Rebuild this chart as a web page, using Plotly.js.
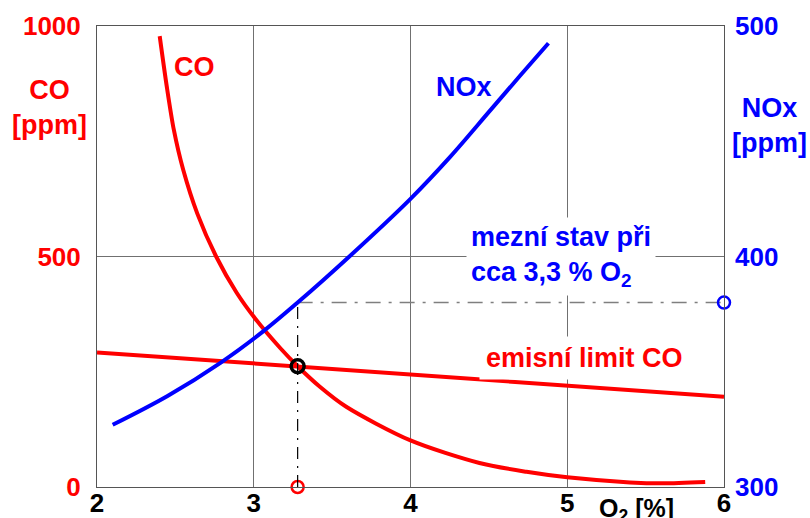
<!DOCTYPE html>
<html>
<head>
<meta charset="utf-8">
<script src="https://cdn.plot.ly/plotly-3.0.1.min.js"></script>
<style>html,body{margin:0;padding:0;background:#fff;}#chart{width:810px;height:518px;}</style>
</head>
<body>
<div id="chart"></div>
<script>
// O2 [%] tick values
const o2Ticks = [2, 3, 4, 5, 6];
const coTicks = [0, 500, 1000];
const noxTicks = [300, 400, 500];

// CO curve [ppm] vs O2 [%]
const coO2 = [2.40, 2.445, 2.49, 2.55, 2.64, 2.76, 2.89, 3.01, 3.17, 3.28, 3.42, 3.59, 4.0, 4.44, 4.74, 5.0, 5.4, 5.61, 5.88];
const coPpm = [978, 869, 775, 688, 593, 500, 422, 365, 301, 262, 218, 174, 101, 52, 33, 21, 10, 8, 11];

// NOx curve [ppm] vs O2 [%]
const noxO2 = [2.10, 2.45, 2.79, 3.06, 3.28, 3.61, 4.0, 4.25, 4.51, 4.70, 4.88];
const noxPpm = [327, 339.5, 354, 367.5, 380, 400, 425, 443, 463.5, 478.5, 492.5];

// CO emission limit (straight line)
const limitO2 = [2, 6];
const limitCO = [292, 196];

// limit state point
const stateO2 = 3.28;
const stateCO = 262;
const stateNOx = 380;

const FONT = 'Liberation Sans, Arial, sans-serif';
const RED = '#ff0000';
const BLUE = '#0000ff';

const traces = [
  { // horizontal dash-dot at NOx level
    x: [stateO2, 6], y: [stateNOx, stateNOx], yaxis: 'y2', mode: 'lines',
    line: {color: '#7f7f7f', width: 1.5, dash: '15px,8px,3px,8px'}, hoverinfo: 'skip'
  },
  { // vertical dash-dot at limit O2
    x: [stateO2, stateO2], y: [300, stateNOx], yaxis: 'y2', mode: 'lines',
    line: {color: '#000000', width: 1.2, dash: '12px,7px,2px,7px'}, hoverinfo: 'skip'
  },
  {
    x: limitO2, y: limitCO, mode: 'lines',
    line: {color: RED, width: 4}
  },
  {
    x: coO2, y: coPpm, mode: 'lines',
    line: {color: RED, width: 4, shape: 'spline', smoothing: 0.8}
  },
  {
    x: noxO2, y: noxPpm, yaxis: 'y2', mode: 'lines',
    line: {color: BLUE, width: 4, shape: 'spline', smoothing: 1}
  },
  {
    x: [stateO2], y: [stateCO], mode: 'markers', cliponaxis: false,
    marker: {symbol: 'circle-open', size: 13, color: '#000000', line: {width: 3.5, color: '#000000'}}
  },
  {
    x: [stateO2], y: [0], mode: 'markers', cliponaxis: false,
    marker: {symbol: 'circle-open', size: 12, color: RED, line: {width: 2.5, color: RED}}
  },
  {
    x: [6], y: [stateNOx], yaxis: 'y2', mode: 'markers', cliponaxis: false,
    marker: {symbol: 'circle-open', size: 12, color: BLUE, line: {width: 2.5, color: BLUE}}
  }
];

const bold = (size, color) => ({family: FONT, size: size, color: color, weight: 'bold'});

const layout = {
  width: 810, height: 518,
  margin: {l: 97, r: 86, t: 26, b: 31, pad: 0},
  paper_bgcolor: '#ffffff', plot_bgcolor: '#ffffff',
  showlegend: false,
  xaxis: {
    range: [2, 6], tickvals: o2Ticks, ticktext: o2Ticks.map(String),
    showgrid: true, gridcolor: '#707070', gridwidth: 1,
    showline: true, mirror: true, linecolor: '#555555', linewidth: 1,
    zeroline: false, ticks: '', tickfont: bold(26, '#000000'), ticklabelstandoff: -7
  },
  yaxis: {
    range: [0, 1000], tickvals: coTicks, ticktext: coTicks.map(String),
    showgrid: true, gridcolor: '#707070', gridwidth: 1,
    showline: true, mirror: true, linecolor: '#555555', linewidth: 1,
    zeroline: false, ticks: '', tickfont: bold(26, RED), ticklabelstandoff: 10
  },
  yaxis2: {
    range: [300, 500], tickvals: noxTicks, ticktext: noxTicks.map(String),
    overlaying: 'y', side: 'right', showgrid: false, zeroline: false,
    showline: false, ticks: '', tickfont: bold(26, BLUE), ticklabelstandoff: 10
  },
  annotations: [
    {x: 2.625, y: 911, xref: 'x', yref: 'y', text: 'CO', showarrow: false, font: bold(27, RED)},
    {x: 4.34, y: 868, xref: 'x', yref: 'y', text: 'NOx', showarrow: false, font: bold(27, BLUE)},
    {x: 4.963, y: 500, xref: 'x', yref: 'y', text: 'mezní stav při<br>cca 3,3 % O<sub>2</sub>', align: 'left',
     showarrow: false, font: bold(27, BLUE), bgcolor: '#ffffff', borderpad: 4},
    {x: 5.113, y: 280, xref: 'x', yref: 'y', text: 'emisní limit CO', showarrow: false,
     font: bold(27, RED), bgcolor: '#ffffff', borderpad: 6},
    {x: -0.075, y: 0.824, xref: 'paper', yref: 'paper', xanchor: 'center', yanchor: 'middle',
     text: 'CO<br>[ppm]', showarrow: false, font: bold(27, RED)},
    {x: 1.073, y: 0.785, xref: 'paper', yref: 'paper', xanchor: 'center', yanchor: 'middle',
     text: 'NOx<br>[ppm]', showarrow: false, font: bold(27, BLUE)},
    {x: 0.86, y: -0.05, xref: 'paper', yref: 'paper', xanchor: 'center', yanchor: 'middle',
     text: 'O<sub>2</sub> [%]', showarrow: false, font: bold(25, '#000000')}
  ]
};

Plotly.newPlot('chart', traces, layout, {displayModeBar: false, staticPlot: true});
</script>
</body>
</html>
